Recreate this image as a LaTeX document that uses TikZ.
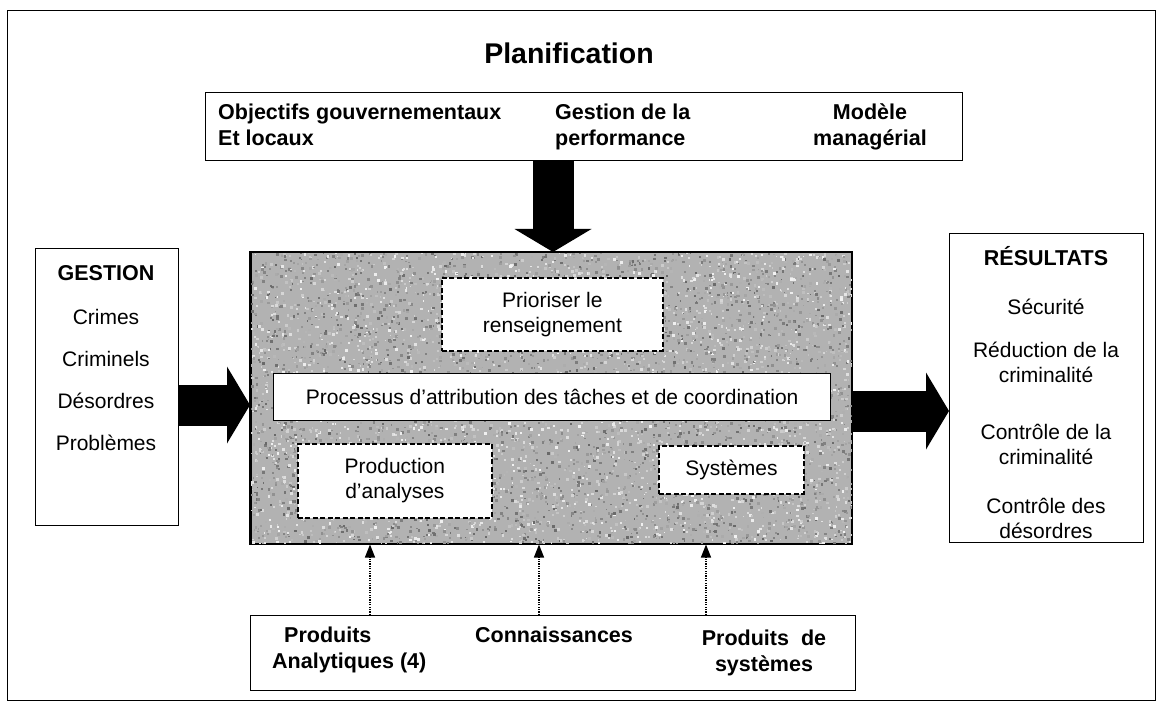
\documentclass[tikz,border=0pt]{standalone}
\usepackage{fontspec}
\setmainfont{Liberation Sans}
\usetikzlibrary{arrows.meta}

\tikzset{
  txt/.style={font=\fontsize{21}{25}\selectfont, inner sep=0pt, align=center},
  btxt/.style={font=\bfseries\fontsize{21.5}{26}\selectfont, inner sep=0pt},
  plainbox/.style={draw, line width=1.3pt, fill=white, inner sep=0pt},
  dashbox/.style={draw, line width=1.8pt, dash pattern=on 5pt off 2.5pt, fill=white, inner sep=0pt},
  fatarrow/.style={line width=41pt, -{Triangle[width=76pt,length=23pt]}},
  dotarrow/.style={line width=1.2pt, dash pattern=on 1.2pt off 1.2pt, -{Triangle[width=10pt,length=13pt]}},
}

\begin{document}
\begin{tikzpicture}[x=1pt,y=-1pt]
\useasboundingbox (0,0) rectangle (1158,708);

% outer frame
\node[draw, line width=1.3pt, anchor=north west, minimum width=1148pt, minimum height=690pt, inner sep=0pt] (frame) at (7,10) {};

% title
\node[font=\bfseries\fontsize{28.5}{32}\selectfont, inner sep=0pt] (title) at (569,53) {Planification};

% planning box
\node[plainbox, anchor=north west, minimum width=757pt, minimum height=68pt] (plan) at (205,92) {};
\node[btxt, anchor=north west, align=left] (obj) at (218,104) {Objectifs gouvernementaux\\Et locaux};
\node[btxt, anchor=north west, align=left] (perf) at (555,104) {Gestion de la\\performance};
\node[btxt, anchor=north, align=center] (mod) at (870,104) {Modèle\\managérial};

% central process area with a grainy grey fill
\node[draw, line width=1.5pt, fill=black!30, anchor=north west, minimum width=601pt, minimum height=291pt, inner sep=0pt] (main) at (250,252) {};
\begin{scope}
  \clip (main.north west) rectangle (main.south east);
  \pgfmathsetseed{42}
  \foreach \i in {1,...,6500}{
    \pgfmathsetmacro{\px}{250+601*rnd}
    \pgfmathsetmacro{\py}{252+291*rnd}
    \pgfmathsetmacro{\pc}{int(5+55*rnd)}
    \pgfmathsetmacro{\ps}{1.4+1.6*rnd}
    \fill[black!\pc] (\px,\py) rectangle ++(\ps,\ps);
  }
\end{scope}
\draw[line width=1.5pt] (main.north west) rectangle (main.south east);

\node[dashbox, anchor=north west, minimum width=221pt, minimum height=73pt] (prio) at (441,277) {};
\node[txt] at (prio.center) {Prioriser le\\renseignement};

\node[plainbox, anchor=north west, minimum width=557pt, minimum height=47pt] (proc) at (273,373) {};
\node[txt] at (proc.center) {Processus d’attribution des tâches et de coordination};

\node[dashbox, anchor=north west, minimum width=194pt, minimum height=74pt] (prod) at (297,443) {};
\node[txt] at (prod.center) {Production\\d'analyses};

\node[dashbox, anchor=north west, minimum width=145pt, minimum height=48pt] (sys) at (658,445) {};
\node[txt] at (sys.center) {Systèmes};

% management box
\node[plainbox, anchor=north west, minimum width=143pt, minimum height=277pt] (gest) at (35,248) {};
\node[btxt] (g0) at (106,273) {GESTION};
\node[txt] (g1) at (106,317) {Crimes};
\node[txt] (g2) at (106,359) {Criminels};
\node[txt] (g3) at (106,401) {Désordres};
\node[txt] (g4) at (106,443) {Problèmes};

% results box
\node[plainbox, anchor=north west, minimum width=194pt, minimum height=309pt] (res) at (949,233) {};
\node[btxt] (r0) at (1046,256) {RÉSULTATS};
\node[txt] (r1) at (1046,307) {Sécurité};
\node[txt] (r2) at (1046,362) {Réduction de la\\criminalité};
\node[txt] (r3) at (1046,444) {Contrôle de la\\criminalité};
\node[txt] (r4) at (1046,518) {Contrôle des\\désordres};

% products box
\node[plainbox, anchor=north west, minimum width=605pt, minimum height=75pt] (prodbox) at (250,615) {};
\node[btxt, align=left, anchor=north west] (p1) at (272,627) {\hspace*{12pt}Produits\\Analytiques (4)};
\node[btxt, anchor=north] (p2) at (554,627) {Connaissances};
\node[btxt, align=center, anchor=north] (p3) at (764,630) {Produits\hspace{6pt} de\\systèmes};

% thick flow arrows
\coordinate (downx) at (553,0);
\coordinate (lefty) at (0,405);
\coordinate (righty) at (0,411);
\draw[fatarrow] (plan.south -| downx) -- (main.north -| downx);
\draw[fatarrow] (gest.east |- lefty) -- (main.west |- lefty);
\draw[fatarrow] (main.east |- righty) -- (res.west |- righty);

% dotted input arrows
\coordinate (d1) at (370,0);
\coordinate (d2) at (539,0);
\coordinate (d3) at (706,0);
\draw[dotarrow] (prodbox.north -| d1) -- (main.south -| d1);
\draw[dotarrow] (prodbox.north -| d2) -- (main.south -| d2);
\draw[dotarrow] (prodbox.north -| d3) -- (main.south -| d3);
\end{tikzpicture}
\end{document}
